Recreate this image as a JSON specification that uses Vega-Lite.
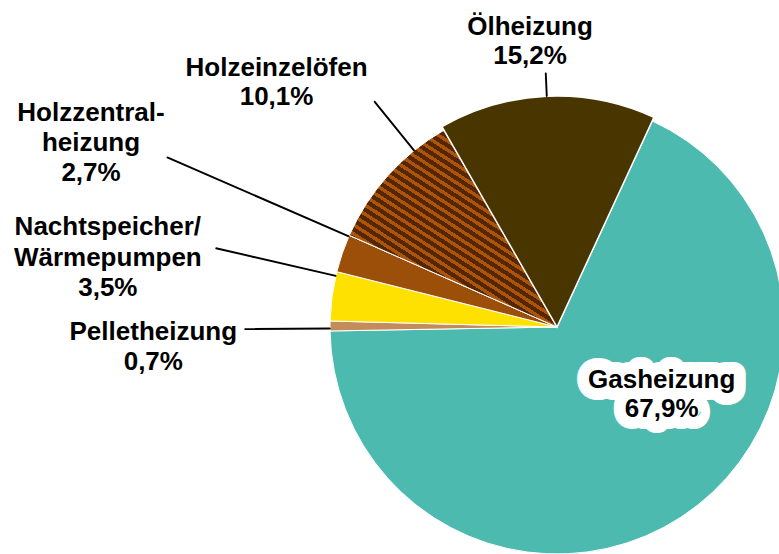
{
  "$schema": "https://vega.github.io/schema/vega-lite/v6.json",
  "width": 444,
  "height": 444,
  "autosize": "none",
  "padding": {"left": 335, "top": 105, "right": 0, "bottom": 5},
  "background": "white",
  "config": {"view": {"stroke": null}, "text": {"font": "Liberation Sans"}},
  "data": {
    "values": [
      {"name": "Gasheizung", "value": 67.9, "ord": 1, "label": ["Gasheizung", "67,9%"]},
      {"name": "Pelletheizung", "value": 0.7, "ord": 2, "label": ["Pelletheizung", "0,7%"]},
      {"name": "Nachtspeicher/Wärmepumpen", "value": 3.5, "ord": 3, "label": ["Nachtspeicher/", "Wärmepumpen", "3,5%"]},
      {"name": "Holzzentralheizung", "value": 2.7, "ord": 4, "label": ["Holzzentral-", "heizung", "2,7%"]},
      {"name": "Holzeinzelöfen", "value": 10.1, "ord": 5, "label": ["Holzeinzelöfen", "10,1%"]},
      {"name": "Ölheizung", "value": 15.2, "ord": 6, "label": ["Ölheizung", "15,2%"]}
    ]
  },
  "transform": [
    {"stack": "value", "groupby": [], "sort": [{"field": "ord", "order": "ascending"}], "as": ["v0", "v1"]}
  ],
  "layer": [
    {
      "mark": {"type": "arc", "radius": 227, "stroke": "white", "strokeWidth": 1},
      "encoding": {
        "theta": {"field": "v0", "type": "quantitative", "scale": {"domain": [0, 100.1], "range": [0.43284, 6.71603]}},
        "theta2": {"field": "v1"},
        "color": {
          "field": "name", "type": "nominal", "legend": null,
          "scale": {
            "domain": ["Gasheizung", "Pelletheizung", "Nachtspeicher/Wärmepumpen", "Holzzentralheizung", "Holzeinzelöfen", "Ölheizung"],
            "range": ["#4DBAB0", "#C48C5A", "#FFE100", "#9C4F08", "#7A3C06", "#483500"]
          }
        }
      }
    },
    {
      "transform": [{"filter": "datum.ord == 5"}],
      "mark": {
        "type": "arc", "radius": 227, "stroke": "white", "strokeWidth": 1,
        "fill": {
          "gradient": "linear", "x1": -0.2966, "y1": 0.4392, "x2": 0.2331, "y2": -0.345,
          "stops": [
            {"offset": 0, "color": "#552600"}, {"offset": 0.022, "color": "#552600"}, {"offset": 0.022, "color": "#AA550A"}, {"offset": 0.04, "color": "#AA550A"},
            {"offset": 0.04, "color": "#552600"}, {"offset": 0.062, "color": "#552600"}, {"offset": 0.062, "color": "#AA550A"}, {"offset": 0.08, "color": "#AA550A"},
            {"offset": 0.08, "color": "#552600"}, {"offset": 0.102, "color": "#552600"}, {"offset": 0.102, "color": "#AA550A"}, {"offset": 0.12, "color": "#AA550A"},
            {"offset": 0.12, "color": "#552600"}, {"offset": 0.142, "color": "#552600"}, {"offset": 0.142, "color": "#AA550A"}, {"offset": 0.16, "color": "#AA550A"},
            {"offset": 0.16, "color": "#552600"}, {"offset": 0.182, "color": "#552600"}, {"offset": 0.182, "color": "#AA550A"}, {"offset": 0.2, "color": "#AA550A"},
            {"offset": 0.2, "color": "#552600"}, {"offset": 0.222, "color": "#552600"}, {"offset": 0.222, "color": "#AA550A"}, {"offset": 0.24, "color": "#AA550A"},
            {"offset": 0.24, "color": "#552600"}, {"offset": 0.262, "color": "#552600"}, {"offset": 0.262, "color": "#AA550A"}, {"offset": 0.28, "color": "#AA550A"},
            {"offset": 0.28, "color": "#552600"}, {"offset": 0.302, "color": "#552600"}, {"offset": 0.302, "color": "#AA550A"}, {"offset": 0.32, "color": "#AA550A"},
            {"offset": 0.32, "color": "#552600"}, {"offset": 0.342, "color": "#552600"}, {"offset": 0.342, "color": "#AA550A"}, {"offset": 0.36, "color": "#AA550A"},
            {"offset": 0.36, "color": "#552600"}, {"offset": 0.382, "color": "#552600"}, {"offset": 0.382, "color": "#AA550A"}, {"offset": 0.4, "color": "#AA550A"},
            {"offset": 0.4, "color": "#552600"}, {"offset": 0.422, "color": "#552600"}, {"offset": 0.422, "color": "#AA550A"}, {"offset": 0.44, "color": "#AA550A"},
            {"offset": 0.44, "color": "#552600"}, {"offset": 0.462, "color": "#552600"}, {"offset": 0.462, "color": "#AA550A"}, {"offset": 0.48, "color": "#AA550A"},
            {"offset": 0.48, "color": "#552600"}, {"offset": 0.502, "color": "#552600"}, {"offset": 0.502, "color": "#AA550A"}, {"offset": 0.52, "color": "#AA550A"},
            {"offset": 0.52, "color": "#552600"}, {"offset": 0.542, "color": "#552600"}, {"offset": 0.542, "color": "#AA550A"}, {"offset": 0.56, "color": "#AA550A"},
            {"offset": 0.56, "color": "#552600"}, {"offset": 0.582, "color": "#552600"}, {"offset": 0.582, "color": "#AA550A"}, {"offset": 0.6, "color": "#AA550A"},
            {"offset": 0.6, "color": "#552600"}, {"offset": 0.622, "color": "#552600"}, {"offset": 0.622, "color": "#AA550A"}, {"offset": 0.64, "color": "#AA550A"},
            {"offset": 0.64, "color": "#552600"}, {"offset": 0.662, "color": "#552600"}, {"offset": 0.662, "color": "#AA550A"}, {"offset": 0.68, "color": "#AA550A"},
            {"offset": 0.68, "color": "#552600"}, {"offset": 0.702, "color": "#552600"}, {"offset": 0.702, "color": "#AA550A"}, {"offset": 0.72, "color": "#AA550A"},
            {"offset": 0.72, "color": "#552600"}, {"offset": 0.742, "color": "#552600"}, {"offset": 0.742, "color": "#AA550A"}, {"offset": 0.76, "color": "#AA550A"},
            {"offset": 0.76, "color": "#552600"}, {"offset": 0.782, "color": "#552600"}, {"offset": 0.782, "color": "#AA550A"}, {"offset": 0.8, "color": "#AA550A"},
            {"offset": 0.8, "color": "#552600"}, {"offset": 0.822, "color": "#552600"}, {"offset": 0.822, "color": "#AA550A"}, {"offset": 0.84, "color": "#AA550A"},
            {"offset": 0.84, "color": "#552600"}, {"offset": 0.862, "color": "#552600"}, {"offset": 0.862, "color": "#AA550A"}, {"offset": 0.88, "color": "#AA550A"},
            {"offset": 0.88, "color": "#552600"}, {"offset": 0.902, "color": "#552600"}, {"offset": 0.902, "color": "#AA550A"}, {"offset": 0.92, "color": "#AA550A"},
            {"offset": 0.92, "color": "#552600"}, {"offset": 0.942, "color": "#552600"}, {"offset": 0.942, "color": "#AA550A"}, {"offset": 0.96, "color": "#AA550A"},
            {"offset": 0.96, "color": "#552600"}, {"offset": 0.982, "color": "#552600"}, {"offset": 0.982, "color": "#AA550A"}, {"offset": 1, "color": "#AA550A"}
          ]
        }
      },
      "encoding": {
        "theta": {"field": "v0", "type": "quantitative", "scale": {"domain": [0, 100.1], "range": [0.43284, 6.71603]}},
        "theta2": {"field": "v1"}
      }
    },
    {
      "transform": [{"filter": "datum.ord == 6"}],
      "mark": {"type": "arc", "radius": 231, "fill": "#483500", "stroke": "white", "strokeWidth": 1.5},
      "encoding": {
        "theta": {"field": "v0", "type": "quantitative", "scale": {"domain": [0, 100.1], "range": [0.43284, 6.71603]}},
        "theta2": {"field": "v1"}
      }
    },
    {
      "transform": [{"filter": "datum.ord == 2"}],
      "mark": {"type": "arc", "radius": 312, "radius2": 227, "thetaOffset": 0.01054, "theta2Offset": 0.01094, "fill": "black", "stroke": "black", "strokeWidth": 1.8, "strokeJoin": "bevel"},
      "encoding": {
        "theta": {"field": "v0", "type": "quantitative", "scale": {"domain": [0, 100.1], "range": [0.43284, 6.71603]}},
        "theta2": {"field": "v0"}
      }
    },
    {
      "transform": [{"filter": "datum.ord == 3"}],
      "mark": {"type": "arc", "radius": 350, "radius2": 227, "thetaOffset": 0.20049, "theta2Offset": 0.20089, "fill": "black", "stroke": "black", "strokeWidth": 1.8, "strokeJoin": "bevel"},
      "encoding": {
        "theta": {"field": "v0", "type": "quantitative", "scale": {"domain": [0, 100.1], "range": [0.43284, 6.71603]}},
        "theta2": {"field": "v0"}
      }
    },
    {
      "transform": [{"filter": "datum.ord == 4"}],
      "mark": {"type": "arc", "radius": 425, "radius2": 227, "thetaOffset": 0.16406, "theta2Offset": 0.16446, "fill": "black", "stroke": "black", "strokeWidth": 1.8, "strokeJoin": "bevel"},
      "encoding": {
        "theta": {"field": "v0", "type": "quantitative", "scale": {"domain": [0, 100.1], "range": [0.43284, 6.71603]}},
        "theta2": {"field": "v0"}
      }
    },
    {
      "transform": [{"filter": "datum.ord == 5"}],
      "mark": {"type": "arc", "radius": 290, "radius2": 227, "thetaOffset": 0.47455, "theta2Offset": 0.47495, "fill": "black", "stroke": "black", "strokeWidth": 1.8, "strokeJoin": "bevel"},
      "encoding": {
        "theta": {"field": "v0", "type": "quantitative", "scale": {"domain": [0, 100.1], "range": [0.43284, 6.71603]}},
        "theta2": {"field": "v0"}
      }
    },
    {
      "transform": [{"filter": "datum.ord == 6"}],
      "mark": {"type": "arc", "radius": 254, "radius2": 231, "thetaOffset": 0.47682, "theta2Offset": 0.47722, "fill": "black", "stroke": "black", "strokeWidth": 1.8, "strokeJoin": "bevel"},
      "encoding": {
        "theta": {"field": "v0", "type": "quantitative", "scale": {"domain": [0, 100.1], "range": [0.43284, 6.71603]}},
        "theta2": {"field": "v0"}
      }
    },
    {
      "transform": [{"filter": "datum.ord == 1"}],
      "mark": {"type": "text", "radius": 121.3, "thetaOffset": 1.66766, "align": "center", "baseline": "alphabetic", "fontSize": 26, "fontWeight": "bold", "lineHeight": 28.4, "fill": "white", "stroke": "white", "strokeWidth": 24, "strokeJoin": "round"},
      "encoding": {
        "theta": {"field": "v0", "type": "quantitative", "stack": null, "scale": {"domain": [0, 100.1], "range": [0.43284, 6.71603]}},
        "text": {"field": "label"}
      }
    },
    {
      "transform": [{"filter": "datum.ord == 1"}],
      "mark": {"type": "text", "radius": 121.3, "thetaOffset": 1.66766, "align": "center", "baseline": "alphabetic", "fontSize": 26, "fontWeight": "bold", "lineHeight": 28.4, "fill": "black"},
      "encoding": {
        "theta": {"field": "v0", "type": "quantitative", "stack": null, "scale": {"domain": [0, 100.1], "range": [0.43284, 6.71603]}},
        "text": {"field": "label"}
      }
    },
    {
      "transform": [{"filter": "datum.ord == 2"}],
      "mark": {"type": "text", "radius": 403.9, "thetaOffset": -0.01466, "align": "center", "baseline": "alphabetic", "fontSize": 26, "fontWeight": "bold", "lineHeight": 30, "fill": "black"},
      "encoding": {
        "theta": {"field": "v0", "type": "quantitative", "stack": null, "scale": {"domain": [0, 100.1], "range": [0.43284, 6.71603]}},
        "text": {"field": "label"}
      }
    },
    {
      "transform": [{"filter": "datum.ord == 3"}],
      "mark": {"type": "text", "radius": 458.5, "thetaOffset": 0.17558, "align": "center", "baseline": "alphabetic", "fontSize": 26, "fontWeight": "bold", "lineHeight": 30.5, "fill": "black"},
      "encoding": {
        "theta": {"field": "v0", "type": "quantitative", "stack": null, "scale": {"domain": [0, 100.1], "range": [0.43284, 6.71603]}},
        "text": {"field": "label"}
      }
    },
    {
      "transform": [{"filter": "datum.ord == 4"}],
      "mark": {"type": "text", "radius": 509.3, "thetaOffset": 0.1693, "align": "center", "baseline": "alphabetic", "fontSize": 26, "fontWeight": "bold", "lineHeight": 30, "fill": "black"},
      "encoding": {
        "theta": {"field": "v0", "type": "quantitative", "stack": null, "scale": {"domain": [0, 100.1], "range": [0.43284, 6.71603]}},
        "text": {"field": "label"}
      }
    },
    {
      "transform": [{"filter": "datum.ord == 5"}],
      "mark": {"type": "text", "radius": 376.4, "thetaOffset": 0.31451, "align": "center", "baseline": "alphabetic", "fontSize": 26, "fontWeight": "bold", "lineHeight": 28.6, "fill": "black"},
      "encoding": {
        "theta": {"field": "v0", "type": "quantitative", "stack": null, "scale": {"domain": [0, 100.1], "range": [0.43284, 6.71603]}},
        "text": {"field": "label"}
      }
    },
    {
      "transform": [{"filter": "datum.ord == 6"}],
      "mark": {"type": "text", "radius": 293.7, "thetaOffset": 0.42935, "align": "center", "baseline": "alphabetic", "fontSize": 26, "fontWeight": "bold", "lineHeight": 29, "fill": "black"},
      "encoding": {
        "theta": {"field": "v0", "type": "quantitative", "stack": null, "scale": {"domain": [0, 100.1], "range": [0.43284, 6.71603]}},
        "text": {"field": "label"}
      }
    }
  ]
}
